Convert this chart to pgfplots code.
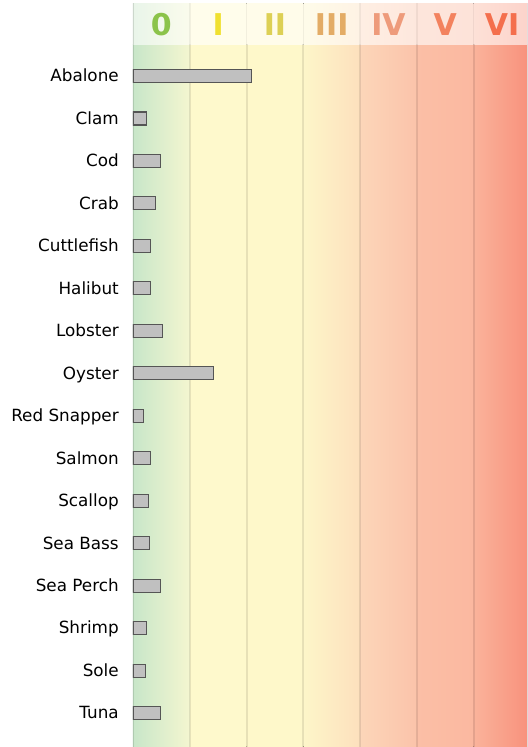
\documentclass[border=0pt]{standalone}
\usepackage{pgfplots}
\pgfplotsset{compat=1.18}
\usepackage{fontspec}
\setmainfont{DejaVu Sans}
\definecolor{cL0}{HTML}{C8E6C9}\definecolor{cR0}{HTML}{F4F6D0}
\definecolor{cL1}{HTML}{FEF9CC}\definecolor{cR1}{HTML}{FEF9CC}
\definecolor{cL2}{HTML}{FEF8CA}\definecolor{cR2}{HTML}{FEF8CA}
\definecolor{cL3}{HTML}{FDF6C9}\definecolor{cR3}{HTML}{FDE0BD}
\definecolor{cL4}{HTML}{FCD6B9}\definecolor{cR4}{HTML}{FBC3AA}
\definecolor{cL5}{HTML}{FBBFA6}\definecolor{cR5}{HTML}{FBB8A0}
\definecolor{cL6}{HTML}{FAB39B}\definecolor{cR6}{HTML}{F8907B}
\definecolor{h0}{HTML}{8BC34A}
\definecolor{h1}{HTML}{F0E030}
\definecolor{h2}{HTML}{DDD055}
\definecolor{h3}{HTML}{E3AC66}
\definecolor{h4}{HTML}{EE9B7B}
\definecolor{h5}{HTML}{F3825E}
\definecolor{h6}{HTML}{F46F4D}
\definecolor{barfill}{HTML}{C0C0C0}
\definecolor{bardraw}{HTML}{555555}
\begin{document}
\begin{tikzpicture}
\begin{axis}[
  scale only axis,
  width=295.5pt, height=558pt,
  xmin=0, xmax=6.94,
  ymin=-1.72, ymax=15.8,
  y dir=reverse,
  axis line style={draw=none},
  major tick length=0pt,
  xtick=\empty,
  ytick={0,...,15},
  yticklabels={Abalone,Clam,Cod,Crab,Cuttlefish,Halibut,Lobster,Oyster,Red Snapper,Salmon,Scallop,Sea Bass,Sea Perch,Shrimp,Sole,Tuna},
  yticklabel style={font=\fontsize{12.6}{15}\selectfont, inner sep=0pt, xshift=-10.5pt, text height=0.88em, text depth=0pt},
  /pgf/number format/assume math mode=true,
]
% body background bands
\foreach \i in {0,...,6}{
  \edef\tmp{\noexpand\fill[left color=cL\i, right color=cR\i, draw=none] (axis cs:\i,-0.75) rectangle (axis cs:\i+1,15.8);}\tmp
  \edef\tmp{\noexpand\fill[left color=cL\i!40!white, right color=cR\i!40!white, draw=none] (axis cs:\i,-1.72) rectangle (axis cs:\i+1,-0.75);}\tmp
}
% vertical separators
\foreach \i in {1,...,6}{
  \edef\tmp{\noexpand\draw[black, opacity=0.09, line width=1.5pt] (axis cs:\i,-0.75) -- (axis cs:\i,15.8);}\tmp
  \edef\tmp{\noexpand\draw[black, opacity=0.05, line width=1.2pt] (axis cs:\i,-1.72) -- (axis cs:\i,-0.75);}\tmp
}
\draw[black, opacity=0.12, line width=1.2pt] (axis cs:-0.005,-1.72) -- (axis cs:-0.005,15.8);
% header labels
\node[font=\bfseries\fontsize{22.5}{22.5}\selectfont, text=h0] at (axis cs:0.5,-1.21) {0};
\node[font=\bfseries\fontsize{22.5}{22.5}\selectfont, text=h1] at (axis cs:1.5,-1.21) {I};
\node[font=\bfseries\fontsize{22.5}{22.5}\selectfont, text=h2] at (axis cs:2.5,-1.21) {II};
\node[font=\bfseries\fontsize{22.5}{22.5}\selectfont, text=h3] at (axis cs:3.5,-1.21) {III};
\node[font=\bfseries\fontsize{22.5}{22.5}\selectfont, text=h4] at (axis cs:4.5,-1.21) {IV};
\node[font=\bfseries\fontsize{22.5}{22.5}\selectfont, text=h5] at (axis cs:5.5,-1.21) {V};
\node[font=\bfseries\fontsize{22.5}{22.5}\selectfont, text=h6] at (axis cs:6.5,-1.21) {VI};
\addplot[xbar, bar width=9.75pt, bar shift=0pt, fill=barfill, draw=bardraw, line width=0.8pt]
  coordinates {
    (2.08,0) (0.24,1) (0.48,2) (0.39,3) (0.31,4) (0.31,5) (0.52,6) (1.41,7)
    (0.18,8) (0.31,9) (0.28,10) (0.29,11) (0.48,12) (0.24,13) (0.22,14) (0.48,15)
  };
\end{axis}
\path ([xshift=-99.75pt]current axis.south west) rectangle ([yshift=2.25pt]current axis.north east);
\end{tikzpicture}
\end{document}
